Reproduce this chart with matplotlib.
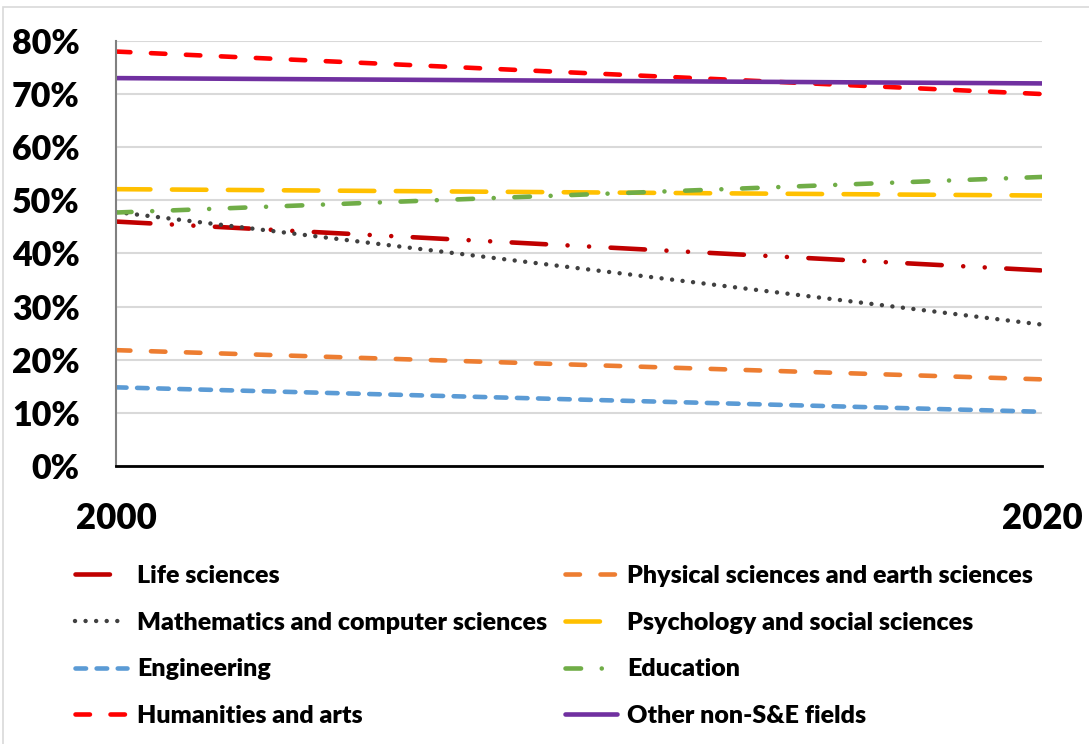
import matplotlib
matplotlib.use("Agg")
import matplotlib.pyplot as plt
from matplotlib.ticker import FuncFormatter
from matplotlib.patches import Rectangle

plt.rcParams['font.family'] = ['Lato', 'DejaVu Sans']
plt.rcParams['font.weight'] = 'heavy'
plt.rcParams['lines.scale_dashes'] = False

years = [2000, 2020]
categories = ["Life sciences", "Physical sciences and earth sciences",
              "Mathematics and computer sciences", "Psychology and social sciences",
              "Engineering", "Education", "Humanities and arts", "Other non-S&E fields"]
life = [46.0, 36.8]
physical = [21.8, 16.3]
math_cs = [47.8, 26.6]
psych = [52.1, 50.9]
engineering = [14.8, 10.2]
education = [47.7, 54.4]
humanities = [78.0, 70.0]
other = [73.0, 72.0]
series = [life, physical, math_cs, psych, engineering, education, humanities, other]

colors = ["#C00000", "#ED7D31", "#404040", "#FFC000", "#5B9BD5", "#70AD47", "#FF0000", "#7030A0"]
d = 0.01
styles = [(0, (24.8, 15.5, d, 15.5, d, 15.5)),
          (0, (10.4, 14.8)),
          (0, (d, 7.6)),
          (0, (24.8, 15.5)),
          (0, (7.6, 7.6)),
          (0, (11.2, 14.9, d, 14.9)),
          (0, (10.4, 14.8)),
          '-']
widths = [3.3, 3.3, 3.2, 3.3, 3.3, 3.3, 3.3, 3.3]

fig = plt.figure(figsize=(10.89, 7.44), dpi=100)
fig.patches.append(Rectangle((3 / 1089, -0.01), 1.0, 1 - 7 / 744 + 0.01, transform=fig.transFigure,
                             fill=False, edgecolor='#D9D9D9', linewidth=1.2, zorder=0))
ax = fig.add_axes([0.1065, 0.3737, 0.8505, 0.5713])

handles = []
for vals, c, ls, w, name in zip(series, colors, styles, widths, categories):
    h, = ax.plot(years, vals, color=c, linestyle=ls, linewidth=w,
                 dash_capstyle='round', solid_capstyle='round', label=name)
    handles.append(h)

ax.set_xlim(2000, 2020)
ax.set_ylim(0, 80)
ax.set_yticks(range(0, 81, 10))
ax.yaxis.set_major_formatter(FuncFormatter(lambda v, p: f"{int(v)}%"))
ax.set_xticks(years)
ax.set_xticklabels([str(y) for y in years])
ax.grid(axis='y', color='#D9D9D9', linewidth=1.5)
ax.set_axisbelow(True)
for s in ['top', 'right']:
    ax.spines[s].set_visible(False)
ax.spines['left'].set_color('#808080')
ax.spines['left'].set_linewidth(1.5)
ax.spines['bottom'].set_color('black')
ax.spines['bottom'].set_linewidth(2)
ax.tick_params(axis='both', length=0)
ax.tick_params(axis='y', labelsize=24.5, pad=26)
ax.tick_params(axis='x', labelsize=25, pad=26)
for lab in ax.get_xticklabels() + ax.get_yticklabels():
    lab.set_fontweight('heavy')

# row-wise order for a 2-column legend
order = [0, 2, 4, 6, 1, 3, 5, 7]
leg = fig.legend([handles[i] for i in order], [categories[i] for i in order],
                 loc='upper left', bbox_to_anchor=(0.048, 0.271),
                 ncol=2, frameon=False, handlelength=2.1,
                 handletextpad=0.4, columnspacing=0.7, labelspacing=0.99,
                 prop={'weight': 'heavy', 'size': 18})

fig.savefig("out.png", dpi=100, facecolor='white')
